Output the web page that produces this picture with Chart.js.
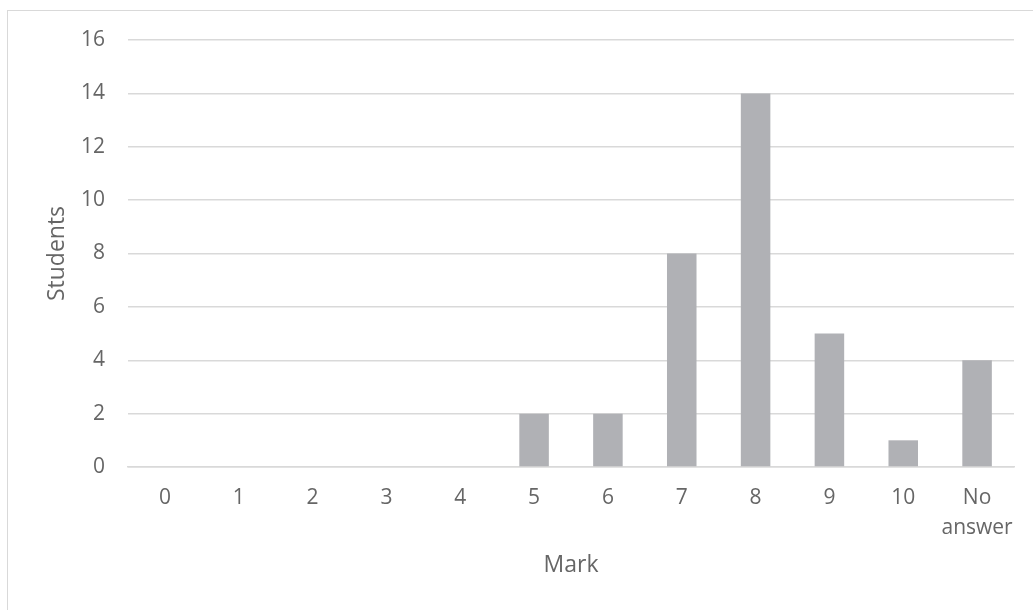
<!DOCTYPE html>
<html>
<head>
<meta charset="utf-8">
<script src="https://cdn.jsdelivr.net/npm/chart.js@4.4.1/dist/chart.umd.min.js"></script>
<style>
  html, body { margin: 0; padding: 0; background: #fff; overflow: hidden; }
  #wrap { position: relative; width: 1033px; height: 610px; }
  #frame {
    position: absolute; left: 7px; top: 10px; width: 1040px; height: 620px;
    border: 1.5px solid #d9d9d9; pointer-events: none;
  }
</style>
</head>
<body>
<div id="wrap">
  <canvas id="myChart" width="1033" height="610"></canvas>
  <div id="frame"></div>
</div>
<script>
Chart.defaults.font.family = "'Open Sans', 'Liberation Sans', sans-serif";
Chart.defaults.font.size = 21;
Chart.defaults.color = '#666666';

const marks = ['0', '1', '2', '3', '4', '5', '6', '7', '8', '9', '10', ['No', 'answer']];
const students = [0, 0, 0, 0, 0, 2, 2, 8, 14, 5, 1, 4];
const yTicks = [0, 2, 4, 6, 8, 10, 12, 14, 16];

const config = {
  type: 'bar',
  data: {
    labels: marks,
    datasets: [{
      label: 'Students',
      data: students,
      backgroundColor: '#b0b1b5',
      borderWidth: 0,
      barPercentage: 0.4,
      categoryPercentage: 1.0
    }]
  },
  options: {
    responsive: false,
    animation: false,
    layout: {
      padding: { top: 40, right: 19, left: 0, bottom: 0 }
    },
    plugins: {
      legend: { display: false },
      tooltip: { enabled: false }
    },
    scales: {
      x: {
        grid: { display: false, drawTicks: false },
        border: { display: true, color: '#d9d9d9', width: 1.5 },
        ticks: { padding: 16, maxRotation: 0, autoSkip: false, font: { size: 21, lineHeight: 1.43 } },
        title: { display: true, text: 'Mark', font: { size: 23 }, padding: { top: 0, bottom: 31 } },
        afterFit: (scale) => { scale.height = 143; }
      },
      y: {
        min: 0,
        max: yTicks[yTicks.length - 1],
        afterBuildTicks: (scale) => { scale.ticks = yTicks.map(v => ({ value: v })); },
        grid: { color: '#d9d9d9', lineWidth: 1.5, drawTicks: false },
        border: { display: false },
        ticks: { padding: 23 },
        title: { display: true, text: 'Students', font: { size: 23 }, padding: { top: 44, bottom: 0 } },
        afterFit: (scale) => { scale.width = 128; }
      }
    }
  }
};

//Rendering
const myChart = new Chart(document.getElementById('myChart'), config);
</script>
</body>
</html>
